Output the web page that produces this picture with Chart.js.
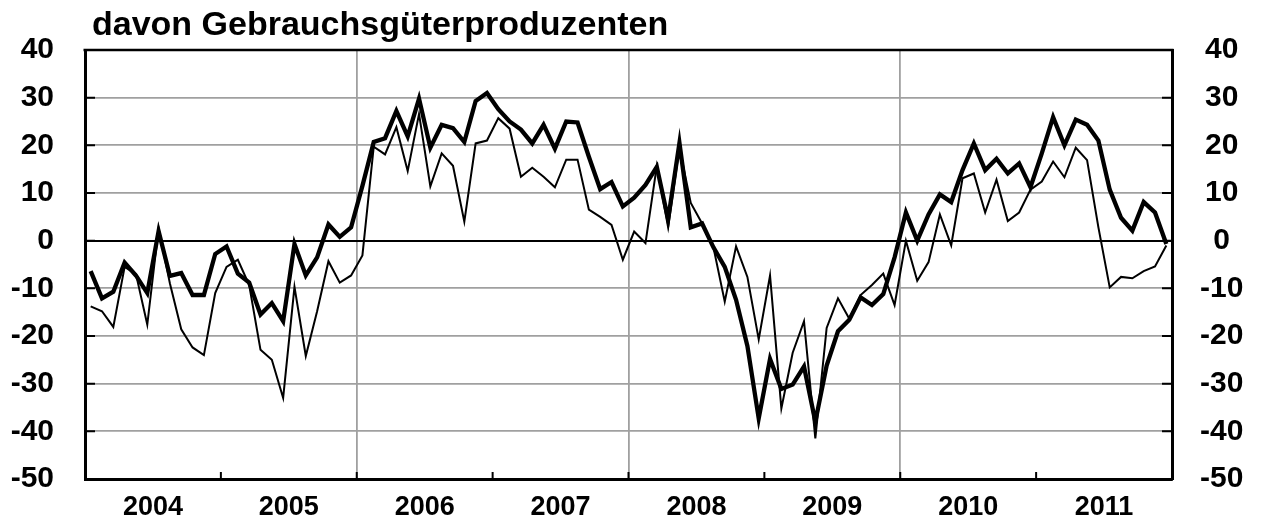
<!DOCTYPE html>
<html>
<head>
<meta charset="utf-8">
<script src="https://cdn.jsdelivr.net/npm/chart.js@4.4.1/dist/chart.umd.min.js"></script>
<style>
  html, body { margin: 0; padding: 0; background: #fff; }
  #wrap { width: 1266px; height: 528px; position: relative; }
</style>
</head>
<body>
<div id="wrap"><canvas id="chart"></canvas></div>
<script>
// Jahre auf der x-Achse, je 12 Monate
const JAHRE = ['2004', '2005', '2006', '2007', '2008', '2009', '2010', '2011'];
const Y_TICKS = [-50, -40, -30, -20, -10, 0, 10, 20, 30, 40];

// Monatswerte Jan 2004 - Dez 2011, dicke Linie
const DICK = [
  -6.4, -12.1, -10.7, -4.6, -7.3, -11.0, 2.0, -7.4, -6.8, -11.4, -11.4, -2.8,
  -1.2, -6.9, -8.8, -15.5, -13.1, -16.9, -0.7, -7.3, -3.5, 3.4, 0.8, 2.8,
  11.5, 20.7, 21.5, 27.2, 21.9, 29.8, 19.5, 24.3, 23.6, 20.7, 29.3, 31.0,
  27.6, 25.0, 23.3, 20.4, 24.3, 19.3, 25.0, 24.8, 17.6, 10.8, 12.3, 7.2,
  9.0, 11.7, 15.5, 4.5, 20.5, 2.8, 3.6, -1.4, -5.5, -12.4, -22.1, -37.3,
  -24.8, -31.1, -30.2, -26.4, -38.0, -26.2, -19.0, -16.6, -11.9, -13.5, -11.2, -3.5,
  5.9, 0.0, 5.5, 9.7, 8.1, 14.8, 20.4, 14.8, 17.2, 14.1, 16.2, 11.2,
  18.3, 25.9, 20.0, 25.4, 24.3, 21.0, 10.7, 4.8, 2.1, 8.1, 5.9, -0.7
];

// Monatswerte Jan 2004 - Dez 2011, duenne Linie
const DUENN = [
  -13.8, -14.8, -18.1, -5.5, -7.0, -17.6, 2.6, -9.0, -18.6, -22.4, -24.0, -11.0,
  -5.5, -4.0, -9.3, -22.9, -25.0, -33.0, -9.7, -24.2, -14.8, -4.3, -8.8, -7.3,
  -3.1, 19.7, 18.1, 23.8, 14.6, 26.6, 11.4, 18.3, 15.7, 4.0, 20.4, 21.0,
  25.7, 23.5, 13.4, 15.3, 13.4, 11.2, 17.0, 17.0, 6.5, 5.0, 3.3, -4.0,
  1.9, -0.5, 15.7, 2.8, 19.5, 7.9, 3.6, -1.4, -12.8, -1.2, -7.6, -20.7,
  -7.3, -35.2, -23.5, -16.9, -41.5, -18.3, -12.1, -16.4, -11.4, -9.3, -6.9, -13.5,
  0.0, -8.4, -4.5, 5.5, -1.0, 13.1, 14.1, 5.9, 12.8, 4.1, 5.9, 10.7,
  12.4, 16.6, 13.3, 19.5, 16.9, 2.8, -9.8, -7.6, -7.9, -6.4, -5.4, -1.0
];

const FONT = '"Liberation Sans", Arial, Helvetica, sans-serif';
const GRAU = '#a0a0a0';

const toPoints = (arr) => arr.map((v, i) => ({ x: i + 0.5, y: v }));

// Rahmen oben und nach innen zeigende Teilstriche
const frameTicks = {
  id: 'frameTicks',
  afterLayout(chart) {
    chart.titleBlock.left = chart.chartArea.left + 7;
  },
  afterDraw(chart) {
    const { ctx, chartArea: a, scales } = chart;
    ctx.save();
    ctx.strokeStyle = '#000';
    ctx.lineWidth = 2.5;
    ctx.beginPath();
    ctx.moveTo(a.left - 1.5, a.top);
    ctx.lineTo(a.right + 1.5, a.top);
    ctx.stroke();

    ctx.lineWidth = 2;
    ctx.beginPath();
    for (const v of Y_TICKS) {
      const y = scales.y.getPixelForValue(v);
      ctx.moveTo(a.left, y);
      ctx.lineTo(a.left + 10, y);
      ctx.moveTo(a.right, y);
      ctx.lineTo(a.right - 10, y);
    }
    for (let m = 12; m < JAHRE.length * 12; m += 12) {
      const x = scales.x.getPixelForValue(m);
      ctx.moveTo(x, a.bottom);
      ctx.lineTo(x, a.bottom - 7);
    }
    ctx.stroke();
    ctx.restore();
  }
};

new Chart(document.getElementById('chart'), {
  type: 'line',
  data: {
    datasets: [
      {
        label: 'dick',
        data: toPoints(DICK),
        borderColor: '#000',
        borderWidth: 4.3,
        pointRadius: 0,
        tension: 0,
        order: 2
      },
      {
        label: 'dünn',
        data: toPoints(DUENN),
        borderColor: '#000',
        borderWidth: 2,
        pointRadius: 0,
        tension: 0,
        order: 1
      }
    ]
  },
  options: {
    responsive: true,
    maintainAspectRatio: false,
    animation: false,
    devicePixelRatio: 1,
    layout: { padding: 0 },
    plugins: {
      legend: { display: false },
      tooltip: { enabled: false },
      title: {
        display: true,
        text: 'davon Gebrauchsgüterproduzenten',
        align: 'start',
        color: '#000',
        font: { family: FONT, size: 34, weight: 'bold', lineHeight: 1.2 },
        padding: { top: 5, bottom: 4.2 }
      }
    },
    scales: {
      x: {
        type: 'linear',
        min: 0,
        max: JAHRE.length * 12,
        afterBuildTicks: (s) => {
          const t = [];
          for (let m = 0; m <= JAHRE.length * 12; m += 6) t.push({ value: m });
          s.ticks = t;
        },
        afterFit: (s) => { s.height = 43; },
        ticks: {
          autoSkip: false,
          maxRotation: 0,
          padding: 12,
          color: '#000',
          font: { family: FONT, size: 27, weight: 'bold', lineHeight: 1.2 },
          callback: (v) => (v % 12 === 6 ? JAHRE[(v - 6) / 12] : '')
        },
        grid: {
          drawTicks: false,
          lineWidth: 1.8,
          color: (c) => {
            const v = c.tick ? c.tick.value : -1;
            return v % 24 === 0 && v > 0 && v < JAHRE.length * 12 ? GRAU : 'rgba(0,0,0,0)';
          }
        },
        border: { display: true, color: '#000', width: 3 }
      },
      y: {
        position: 'left',
        min: -50,
        max: 40,
        afterFit: (s) => { s.width = 85; },
        ticks: {
          stepSize: 10,
          padding: 31,
          color: '#000',
          font: { family: FONT, size: 30, weight: 'bold' }
        },
        grid: {
          drawTicks: false,
          color: (c) => (c.tick && c.tick.value === 0 ? '#000' : GRAU),
          lineWidth: (c) => (c.tick && c.tick.value === 0 ? 2 : 1.8)
        },
        border: { display: true, color: '#000', width: 3 }
      },
      y2: {
        position: 'right',
        min: -50,
        max: 40,
        afterFit: (s) => { s.width = 94; },
        ticks: {
          stepSize: 10,
          padding: 28,
          crossAlign: 'center',
          color: '#000',
          font: { family: FONT, size: 30, weight: 'bold' }
        },
        grid: { display: false, drawTicks: false },
        border: { display: true, color: '#000', width: 3 }
      }
    }
  },
  plugins: [frameTicks]
});
</script>
</body>
</html>
